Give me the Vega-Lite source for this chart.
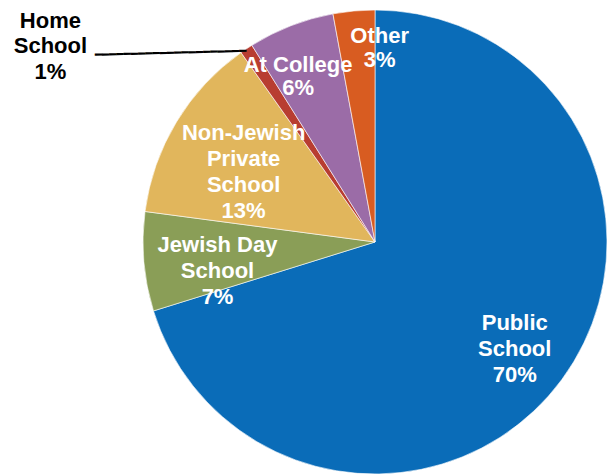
{
  "$schema": "https://vega.github.io/schema/vega-lite/v6.json",
  "width": 464,
  "height": 464,
  "autosize": "none",
  "padding": {"left": 143, "top": 10, "right": 1, "bottom": 1},
  "background": "#ffffff",
  "config": {"view": {"stroke": null}},
  "data": {
    "values": [
      {"cat": "Public School", "value": 70.2, "label": "Public\nSchool\n70%", "idx": 1},
      {"cat": "Jewish Day School", "value": 6.9, "label": "Jewish Day\nSchool\n7%", "idx": 2},
      {"cat": "Non-Jewish Private School", "value": 13.1, "label": "Non-Jewish\nPrivate\nSchool\n13%", "idx": 3},
      {"cat": "Home School", "value": 0.9, "label": "Home\nSchool\n1%", "idx": 4},
      {"cat": "At College", "value": 6.0, "label": "At College\n6%", "idx": 5},
      {"cat": "Other", "value": 2.9, "label": "Other\n3%", "idx": 6}
    ]
  },
  "encoding": {
    "theta": {"field": "value", "type": "quantitative", "stack": true},
    "order": {"field": "idx", "type": "quantitative"}
  },
  "layer": [
    {
      "mark": {"type": "arc", "outerRadius": 232, "stroke": "#ffffff", "strokeWidth": 0.6},
      "encoding": {
        "color": {
          "field": "cat", "type": "nominal", "legend": null,
          "scale": {
            "domain": ["Public School", "Jewish Day School", "Non-Jewish Private School", "Home School", "At College", "Other"],
            "range": ["#0a6cb8", "#8a9e57", "#e1b65c", "#b83d31", "#9b6ca7", "#d85c21"]
          }
        }
      }
    },
    {
      "mark": {"type": "text", "radius": 176, "dx": -2, "dy": -23, "font": "Liberation Sans", "fontWeight": "bold", "fontSize": 22, "lineHeight": 26, "lineBreak": "\n", "fill": "#ffffff", "align": "center", "baseline": "middle"},
      "encoding": {"text": {"condition": {"test": "datum.cat === 'Public School'", "field": "label"}, "value": ""}}
    },
    {
      "mark": {"type": "text", "radius": 147, "dx": -11, "dy": -9, "font": "Liberation Sans", "fontWeight": "bold", "fontSize": 22, "lineHeight": 26, "lineBreak": "\n", "fill": "#ffffff", "align": "center", "baseline": "middle"},
      "encoding": {"text": {"condition": {"test": "datum.cat === 'Jewish Day School'", "field": "label"}, "value": ""}}
    },
    {
      "mark": {"type": "text", "radius": 150, "dx": -3, "dy": -31, "font": "Liberation Sans", "fontWeight": "bold", "fontSize": 22, "lineHeight": 26, "lineBreak": "\n", "fill": "#ffffff", "align": "center", "baseline": "middle"},
      "encoding": {"text": {"condition": {"test": "datum.cat === 'Non-Jewish Private School'", "field": "label"}, "value": ""}}
    },
    {
      "mark": {"type": "text", "radius": 182, "dx": -11, "dy": -7, "font": "Liberation Sans", "fontWeight": "bold", "fontSize": 22, "lineHeight": 23, "lineBreak": "\n", "fill": "#ffffff", "align": "center", "baseline": "middle"},
      "encoding": {"text": {"condition": {"test": "datum.cat === 'At College'", "field": "label"}, "value": ""}}
    },
    {
      "mark": {"type": "text", "radius": 190, "dx": 22, "dy": -17, "font": "Liberation Sans", "fontWeight": "bold", "fontSize": 22, "lineHeight": 24, "lineBreak": "\n", "fill": "#ffffff", "align": "center", "baseline": "middle"},
      "encoding": {"text": {"condition": {"test": "datum.cat === 'Other'", "field": "label"}, "value": ""}}
    },
    {
      "mark": {"type": "text", "radius": 232, "dx": -196, "dy": -28, "font": "Liberation Sans", "fontWeight": "bold", "fontSize": 22, "lineHeight": 25.5, "lineBreak": "\n", "fill": "#000000", "align": "center", "baseline": "middle"},
      "encoding": {"text": {"condition": {"test": "datum.cat === 'Home School'", "field": "label"}, "value": ""}}
    },
    {
      "mark": {"type": "text", "radius": 232, "dx": 0, "dy": 2, "angle": 358.5, "font": "DejaVu Sans Mono", "fontSize": 12, "fill": "#000000", "align": "right", "baseline": "middle"},
      "encoding": {"text": {"condition": {"test": "datum.cat === 'Home School'", "value": "━━━━━━━━━━━━━━━━━━━━━"}, "value": ""}}
    }
  ]
}
